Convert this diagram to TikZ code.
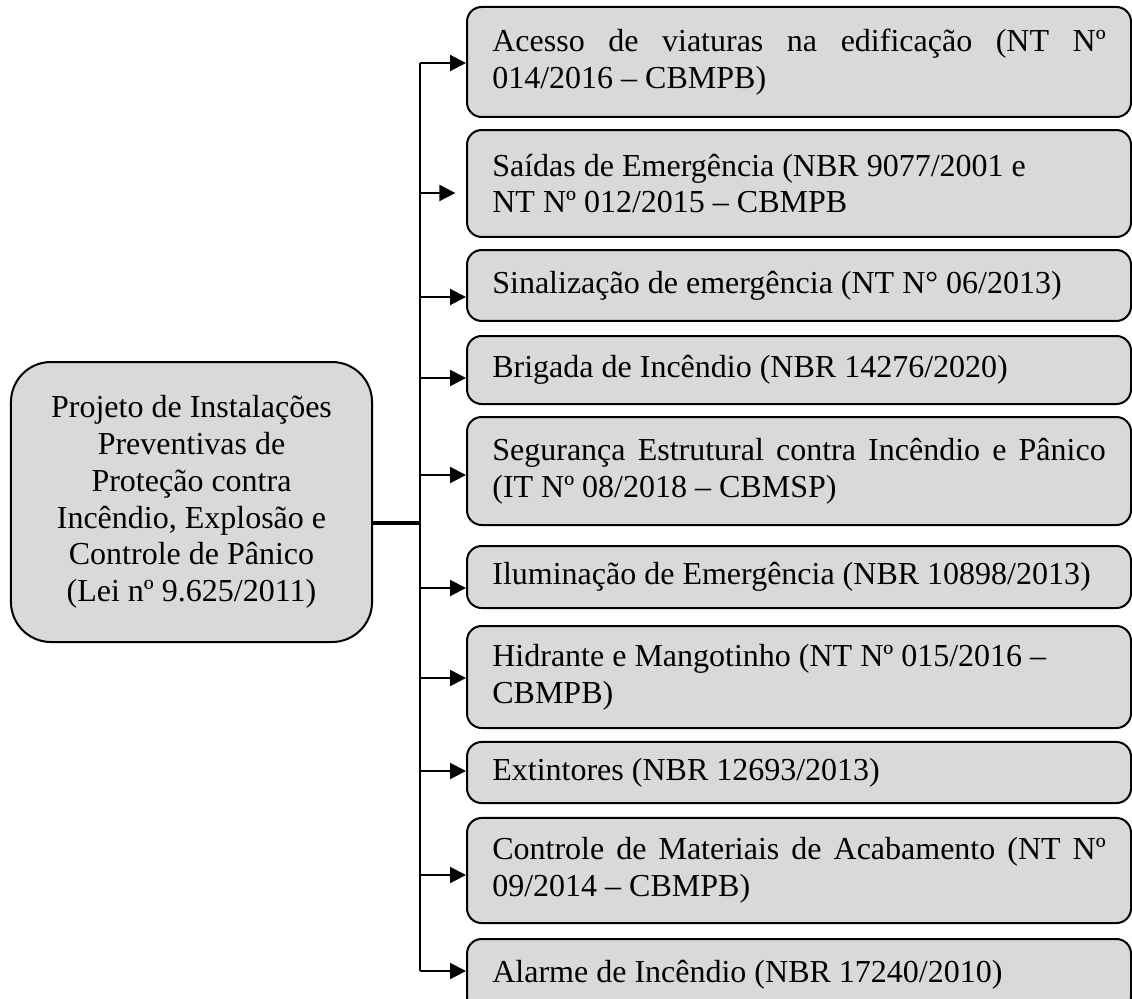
\documentclass[tikz,border=0pt]{standalone}
\usepackage{fontspec}
\setmainfont{Liberation Serif}
\usetikzlibrary{arrows.meta}
\definecolor{boxgray}{RGB}{217,217,217}

\begin{document}
\begin{tikzpicture}[x=0.375pt, y=-0.375pt,
		item/.style={draw, line width=0.75pt, fill=boxgray, rounded corners=5.5pt, anchor=west,
			text width=230pt, inner xsep=9.5pt, inner ysep=0pt, align=justify,
			font=\fontsize{12}{13.8}\selectfont},
		root/.style={draw, line width=0.75pt, fill=boxgray, rounded corners=15pt,
			minimum width=135.4pt, minimum height=105pt, align=center,
			font=\fontsize{12}{13.8}\selectfont},
		link/.style={line width=0.75pt, -{Triangle[length=6pt, width=6pt]}}]
		\useasboundingbox (0,0) rectangle (1132,998);

		\node[root] (proj) at (191.5,502) {Projeto de Instalações\\Preventivas de\\Proteção contra\\Incêndio, Explosão e\\Controle de Pânico\\(Lei nº 9.625/2011)};

		\node[item, minimum height=41.25pt] (acesso) at (466,62) {Acesso de viaturas na edificação (NT Nº\linebreak 014/2016 – CBMPB)};
		\node[item, minimum height=40.1pt] (saidas) at (466,183.5) {Saídas de Emergência (NBR 9077/2001 e\\NT Nº 012/2015 – CBMPB};
		\node[item, minimum height=26.6pt] (sinal) at (466,285.5) {Sinalização de emergência (NT N° 06/2013)};
		\node[item, minimum height=25.5pt] (brigada) at (466,370) {Brigada de Incêndio (NBR 14276/2020)};
		\node[item, minimum height=40.5pt] (seguranca) at (466,471) {Segurança Estrutural contra Incêndio e Pânico\linebreak (IT Nº 08/2018 – CBMSP)};
		\node[item, minimum height=23.25pt] (ilum) at (466,577) {Iluminação de Emergência (NBR 10898/2013)};
		\node[item, minimum height=38.25pt] (hidrante) at (466,677) {Hidrante e Mangotinho (NT Nº 015/2016 –\\CBMPB)};
		\node[item, minimum height=22.9pt] (extintores) at (466,772.5) {Extintores (NBR 12693/2013)};
		\node[item, minimum height=39.4pt] (materiais) at (466,870.5) {Controle de Materiais de Acabamento (NT Nº\linebreak 09/2014 – CBMPB)};
		\node[item, minimum height=27pt] (alarme) at (466,975) {Alarme de Incêndio (NBR 17240/2010)};

		\coordinate (j0) at (420,523);
		\coordinate (j1) at (420,63);
		\coordinate (j2) at (420,193);
		\coordinate (j3) at (420,297);
		\coordinate (j4) at (420,378);
		\coordinate (j5) at (420,475);
		\coordinate (j6) at (420,588);
		\coordinate (j7) at (420,678);
		\coordinate (j8) at (420,771);
		\coordinate (j9) at (420,875);
		\coordinate (j10) at (420,971);

		\draw[line width=1pt] (j1) -- (j10);
		\draw[line width=1.25pt] (proj.east |- j0) -- (j0);

		\draw[link] (j1) -- (j1 -| acesso.west);
		\draw[link, shorten >=4pt] (j2) -- (j2 -| saidas.west);
		\draw[link] (j3) -- (j3 -| sinal.west);
		\draw[link] (j4) -- (j4 -| brigada.west);
		\draw[link] (j5) -- (j5 -| seguranca.west);
		\draw[link] (j6) -- (j6 -| ilum.west);
		\draw[link] (j7) -- (j7 -| hidrante.west);
		\draw[link] (j8) -- (j8 -| extintores.west);
		\draw[link] (j9) -- (j9 -| materiais.west);
		\draw[link] (j10) -- (j10 -| alarme.west);
	\end{tikzpicture}
\end{document}
